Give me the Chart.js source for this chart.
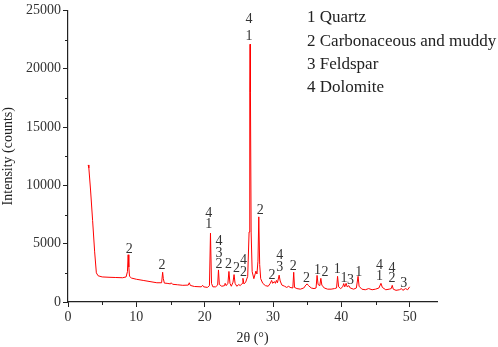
<!DOCTYPE html>
<html>
<head>
<meta charset="utf-8">
<script src="https://cdn.jsdelivr.net/npm/chart.js@4/dist/chart.umd.min.js"></script>
<style>
  html, body { margin: 0; padding: 0; background: #fff; }
  #wrap { width: 498px; height: 347px; }
</style>
</head>
<body>
<div id="wrap"><canvas id="xrd"></canvas></div>
<script>
// diffraction pattern
const twoTheta = [2.95, 3.05, 3.3, 3.6, 3.9, 4.15, 4.4, 5, 6, 7, 8, 8.5, 8.7, 8.8, 8.9, 9.0, 9.3, 10, 11, 12, 13, 13.7, 13.85, 13.95, 14.1, 14.5, 15, 15.1, 15.3, 16, 16.8, 17.6, 17.75, 17.9, 18.5, 19.5, 19.7, 19.85, 20.4, 20.7, 20.85, 21.0, 21.2, 21.6, 21.9, 22.02, 22.15, 22.5, 22.9, 23.0, 23.15, 23.4, 23.55, 23.7, 23.9, 24.15, 24.3, 24.45, 24.7, 25.0, 25.2, 25.5, 25.6, 25.75, 26.0, 26.3, 26.5, 26.6, 26.65, 26.7, 26.8, 26.95, 27.2, 27.5, 27.65, 27.8, 27.92, 28.05, 28.2, 28.5, 28.9, 29.3, 29.6, 29.8, 29.95, 30.2, 30.35, 30.5, 30.65, 30.9, 31.05, 31.3, 31.7, 32.0, 32.3, 32.5, 32.9, 33.03, 33.15, 33.5, 34.0, 34.5, 34.8, 35.0, 35.2, 35.6, 36.0, 36.3, 36.45, 36.6, 36.85, 37.0, 37.15, 37.5, 38.0, 38.5, 39.0, 39.3, 39.45, 39.6, 39.9, 40.2, 40.35, 40.5, 40.7, 40.85, 41.1, 41.3, 41.8, 42.2, 42.45, 42.6, 43.0, 43.5, 44.0, 44.5, 45.0, 45.5, 45.8, 46.0, 46.5, 47.0, 47.3, 47.45, 47.6, 48.0, 48.5, 48.8, 49.0, 49.4, 49.7, 50.0];
const counts = [11750, 11500, 9600, 7000, 4300, 2500, 2250, 2150, 2120, 2100, 2080, 2150, 2600, 4050, 3000, 2200, 2050, 1950, 1850, 1750, 1650, 1650, 2550, 2000, 1620, 1600, 1550, 1650, 1520, 1480, 1430, 1450, 1650, 1420, 1330, 1300, 1430, 1300, 1250, 1400, 5900, 1600, 1300, 1300, 1450, 2750, 1500, 1350, 1400, 1600, 1400, 1600, 2620, 1600, 1350, 1700, 2350, 1600, 1350, 1500, 1400, 1600, 2030, 1550, 1700, 2200, 6000, 18000, 22100, 18000, 6000, 2600, 2000, 2650, 2400, 3500, 7300, 3200, 2000, 1600, 1400, 1350, 1600, 1850, 1600, 1750, 1600, 1850, 1650, 2300, 1800, 1450, 1350, 1250, 1350, 1250, 1200, 2550, 1250, 1150, 1100, 1200, 1450, 1550, 1400, 1200, 1150, 1200, 2280, 1500, 1400, 2030, 1450, 1200, 1100, 1100, 1150, 1200, 2200, 1300, 1150, 1300, 1580, 1300, 1600, 1300, 1400, 1200, 1100, 1200, 2200, 1350, 1100, 1050, 1150, 1050, 1100, 1200, 1600, 1250, 1050, 1100, 1150, 1430, 1100, 1000, 1050, 1150, 1000, 1150, 1050, 1300];

// peak annotations: phase number, 2θ, height
const peakText = ['2', '2', '4', '1', '4', '3', '2', '2', '2', '4', '2', '4', '1', '2', '2', '4', '3', '2', '2', '1', '2', '1', '1', '3', '1', '4', '1', '4', '2', '3'];
const peakX = [8.95, 13.75, 20.6, 20.6, 22.1, 22.1, 22.1, 23.5, 24.65, 25.7, 25.7, 26.5, 26.5, 28.15, 29.85, 31.0, 31.0, 32.95, 34.9, 36.5, 37.6, 39.4, 40.4, 41.35, 42.55, 45.6, 45.6, 47.4, 47.4, 49.15];
const peakY = [4480, 3120, 7630, 6650, 5180, 4200, 3210, 3210, 2850, 3550, 2560, 24250, 22750, 7830, 2280, 3970, 2930, 3070, 2000, 2700, 2560, 2760, 2000, 1860, 2560, 3180, 2200, 2900, 2000, 1580];

const phases = ['1 Quartz', '2 Carbonaceous and muddy', '3 Feldspar', '4 Dolomite'];

const xTicks = [0, 10, 20, 30, 40, 50];
const yTicks = [0, 5000, 10000, 15000, 20000, 25000];

const serif = '"Liberation Serif", "Times New Roman", serif';

const annotate = {
  id: 'annotate',
  afterDraw(chart) {
    const ctx = chart.ctx;
    const xs = chart.scales.x, ys = chart.scales.y;
    ctx.save();
    // minor ticks
    ctx.strokeStyle = '#222';
    ctx.lineWidth = 1;
    for (let v = 5; v < 55; v += 10) {
      const px = Math.round(xs.getPixelForValue(v)) + 0.5;
      ctx.beginPath(); ctx.moveTo(px, ys.bottom); ctx.lineTo(px, ys.bottom + 3); ctx.stroke();
    }
    for (let v = 2500; v < 25000; v += 5000) {
      const py = Math.round(ys.getPixelForValue(v)) + 0.5;
      ctx.beginPath(); ctx.moveTo(xs.left, py); ctx.lineTo(xs.left - 3, py); ctx.stroke();
    }
    // peak labels
    ctx.fillStyle = '#333';
    ctx.font = '14px ' + serif;
    ctx.textAlign = 'center';
    ctx.textBaseline = 'middle';
    peakText.forEach((t, i) => {
      ctx.fillText(t, xs.getPixelForValue(peakX[i]), ys.getPixelForValue(peakY[i]));
    });
    // phase key
    ctx.font = '17px ' + serif;
    ctx.textAlign = 'left';
    ctx.fillStyle = '#222';
    phases.forEach((t, i) => {
      ctx.fillText(t, 307, 18 + i * 23.2);
    });
    ctx.restore();
  }
};

new Chart(document.getElementById('xrd'), {
  type: 'line',
  data: {
    datasets: [{
      data: twoTheta.map((x, i) => ({ x: x, y: counts[i] })),
      borderColor: 'rgb(255, 0, 0)',
      borderWidth: 1,
      pointRadius: 0,
      tension: 0,
      fill: false
    }]
  },
  options: {
    responsive: true,
    maintainAspectRatio: false,
    animation: false,
    layout: { padding: { top: 6, right: 61, left: 0, bottom: 0 } },
    plugins: { legend: { display: false }, tooltip: { enabled: false } },
    scales: {
      x: {
        type: 'linear',
        min: 0,
        max: 54,
        afterBuildTicks: s => { s.ticks = xTicks.map(v => ({ value: v })); },
        afterFit: s => { s.height = 45; },
        grid: { drawOnChartArea: false, tickLength: 5, tickColor: '#222' },
        border: { color: '#222', width: 1.2 },
        ticks: { color: '#333', padding: 2, maxRotation: 0, font: { family: serif, size: 14 }, callback: v => String(v) },
        title: { display: true, text: '2θ (°)', color: '#222', padding: { top: 2, bottom: 0 }, font: { family: serif, size: 14 } }
      },
      y: {
        min: 0,
        max: 25000,
        afterBuildTicks: s => { s.ticks = yTicks.map(v => ({ value: v })); },
        afterFit: s => { s.width = 68; },
        grid: { drawOnChartArea: false, tickLength: 5, tickColor: '#222' },
        border: { color: '#222', width: 1.2 },
        ticks: { color: '#333', padding: 2, font: { family: serif, size: 14 }, callback: v => String(v) },
        title: { display: true, text: 'Intensity (counts)', color: '#222', padding: { top: 0, bottom: 0 }, font: { family: serif, size: 14 } }
      }
    }
  },
  plugins: [annotate]
});
</script>
</body>
</html>
